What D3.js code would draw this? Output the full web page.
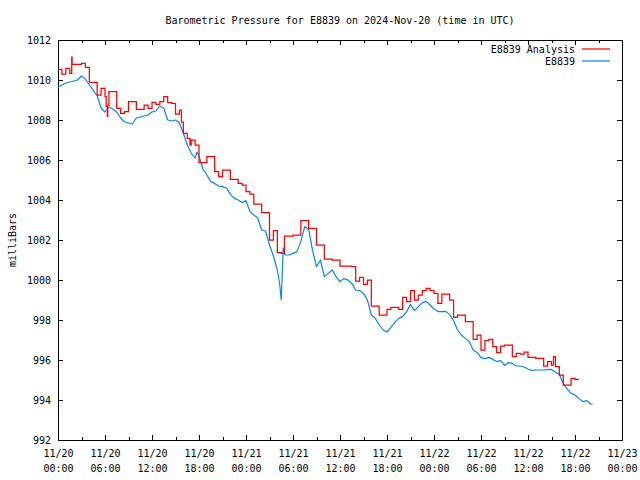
<!DOCTYPE html>
<html><head><meta charset="utf-8">
<script src="https://cdn.jsdelivr.net/npm/d3@7"></script>
<style>
body{margin:0;background:#fff}
svg text{font-family:"DejaVu Sans Mono","Liberation Mono",monospace;font-size:10px;fill:#000}
</style>
</head><body>
<svg id="chart" width="640" height="480"></svg>
<script>
const titleText = "Barometric Pressure for E8839 on 2024-Nov-20 (time in UTC)";
const yAxisLabel = "milliBars";
const seriesNames = ["E8839 Analysis", "E8839"];
const seriesColors = ["#ff0000", "#0a84f5"];
const startUTC = Date.UTC(2024, 10, 20, 0, 0);
const endUTC = Date.UTC(2024, 10, 23, 0, 0);
const yTickValues = [992, 994, 996, 998, 1000, 1002, 1004, 1006, 1008, 1010, 1012];

// Analysis (hours after 11/20 00:00 UTC, millibars)
const analysisHours = [0,0.5,1,1.5,1.75,1.8,2,2.5,3,3.5,4,4.5,5,5.5,6,6.15,6.3,6.35,6.5,7,7.5,8,8.5,9,9.5,10,10.5,11,11.5,12,12.5,13,13.5,14,14.5,15,15.5,15.75,16,16.5,16.85,17,17.5,18,18.5,19,19.5,20,20.5,21,21.5,22,22.5,23,23.5,24,24.5,25,25.5,26,26.5,27,27.5,28,28.5,28.9,29,29.5,30,30.5,31,31.5,32,32.5,33,33.5,34,34.5,35,35.5,36,36.5,37,37.5,38,38.5,39,39.5,40,40.5,41,41.5,42,42.5,43,43.5,44,44.5,45,45.5,46,46.5,47,47.5,48,48.5,49,49.5,50,50.5,51,51.5,52,52.5,53,53.5,54,54.5,55,55.5,56,56.5,57,57.5,58,58.5,59,59.5,60,60.5,61,61.5,62,62.5,63,63.25,63.5,64,64.5,65,65.5,66,66.5];
const analysisValues = [1010.53,1010.3,1010.58,1010.33,1011.15,1010.78,1010.78,1010.78,1010.83,1010.63,1009.88,1009.88,1009.25,1009.58,1009.17,1008.67,1008.17,1008.75,1009.42,1009.42,1008.58,1008.33,1008.42,1008.92,1008.92,1008.53,1008.53,1008.75,1008.58,1008.88,1008.78,1008.92,1009.17,1008.87,1008.83,1008.3,1008.5,1007.9,1007.33,1007.08,1006.75,1007.0,1006.75,1005.87,1005.87,1006.17,1006.17,1005.42,1005.17,1005.5,1005.5,1005.03,1005.03,1004.83,1004.75,1004.42,1004.3,1003.8,1003.8,1003.37,1003.37,1002.0,1002.47,1001.37,1001.33,1002.2,1002.2,1002.2,1002.25,1002.25,1002.97,1002.97,1002.58,1002.58,1001.75,1001.75,1001.05,1001.05,1001.0,1001.0,1000.7,1000.7,1000.7,1000.67,999.95,1000.13,999.78,1000.0,998.7,998.7,998.25,998.25,998.53,998.63,998.63,998.53,999.13,998.92,999.47,999.0,999.25,999.47,999.58,999.47,999.33,998.83,999.3,999.3,999.0,998.13,998.25,998.25,997.92,997.92,997.03,997.25,996.5,996.97,997.03,996.67,996.37,996.7,996.75,996.75,996.17,996.33,996.3,996.4,996.13,996.13,996.08,996.08,995.7,995.92,995.75,996.17,995.67,995.25,994.75,994.75,995.08,995.03,995.03];

// Station observations
const stationHours = [0,0.5,1,1.5,2,2.5,3,3.5,4,4.5,5,5.5,6,6.5,7,7.5,8,8.5,9,9.5,10,10.5,11,11.5,12,12.5,13,13.5,14,14.5,15,15.5,16,16.5,17,17.5,17.75,18,18.5,19,19.5,20,20.5,21,21.5,22,22.5,23,23.5,24,24.5,25,25.5,26,26.5,27,27.5,28,28.3,28.5,28.75,29,29.5,30,30.5,31,31.5,32,32.5,33,33.5,34,34.5,35,35.5,36,36.5,37,37.5,38,38.5,39,39.5,40,40.5,41,41.5,42,42.5,43,43.5,44,44.5,45,45.5,46,46.5,47,47.5,48,48.5,49,49.5,50,50.5,51,51.5,52,52.5,53,53.5,54,54.5,55,55.5,56,56.5,57,57.5,58,58.5,59,59.5,60,60.5,61,61.5,62,62.5,63,63.5,64,64.5,65,65.5,66,66.5,67,67.5,68,68.25];
const stationValues = [1009.65,1009.75,1009.85,1009.9,1009.95,1010.0,1010.2,1010.05,1009.75,1009.5,1009.2,1008.6,1008.4,1008.65,1008.55,1008.4,1008.1,1007.9,1007.85,1007.8,1008.1,1008.15,1008.2,1008.25,1008.4,1008.45,1008.7,1008.6,1008.0,1007.95,1008.0,1007.85,1007.35,1006.75,1006.35,1006.1,1006.4,1006.2,1005.55,1005.25,1004.92,1004.83,1004.7,1004.67,1004.6,1004.28,1004.08,1004.0,1003.87,1003.97,1003.42,1003.25,1003.1,1002.5,1002.45,1001.75,1001.2,1000.5,999.8,999.0,1001.6,1001.25,1001.25,1001.33,1001.42,1001.92,1002.67,1002.53,1001.47,1000.67,1001.0,1000.17,1000.33,1000.5,1000.17,999.92,1000.07,1000.0,999.83,999.5,999.47,999.33,999.0,998.25,998.08,997.75,997.5,997.4,997.63,997.88,998.08,998.17,998.42,998.77,998.47,998.67,998.87,998.93,998.75,998.55,998.42,998.42,998.43,998.27,997.97,997.5,997.25,997.08,996.92,996.5,996.38,996.12,996.07,996.13,996.03,995.92,995.97,995.73,995.87,995.83,995.7,995.7,995.65,995.55,995.48,995.5,995.5,995.5,995.52,995.53,995.4,995.27,994.83,994.55,994.33,994.25,994.08,993.92,993.97,993.8,993.8];

const L = 58, R = 622, T = 40, B = 440;
const svg = d3.select("#chart");

const x = d3.scaleUtc().domain([new Date(startUTC), new Date(endUTC)]).range([L, R]);
const y = d3.scaleLinear().domain([992, 1012]).range([B, T]);
const hourToDate = h => new Date(startUTC + h * 3600000);

const majorTimes = d3.utcHour.every(6).range(new Date(startUTC), new Date(endUTC + 1));
const minorTimes = d3.utcHour.every(3).range(new Date(startUTC), new Date(endUTC + 1)).filter(d => d.getUTCHours() % 6 !== 0);

const fmtDay = d3.utcFormat("%m/%d"), fmtTime = d3.utcFormat("%H:%M");

// bottom axis (major, inward)
const gx = svg.append("g").attr("transform", `translate(0,${B})`)
  .call(d3.axisBottom(x).tickValues(majorTimes).tickSize(-5).tickFormat(() => ""));
gx.selectAll(".tick").append("text").attr("class","lbl")
  .attr("text-anchor","middle").attr("fill","#000")
  .each(function(d){
    const t = d3.select(this);
    t.append("tspan").attr("x",0).attr("y",17).text(fmtDay(d));
    t.append("tspan").attr("x",0).attr("y",32).text(fmtTime(d));
  });
svg.append("g").attr("transform", `translate(0,${B})`)
  .call(d3.axisBottom(x).tickValues(minorTimes).tickSize(-3).tickFormat(() => ""));
// top axis
svg.append("g").attr("transform", `translate(0,${T})`)
  .call(d3.axisTop(x).tickValues(majorTimes).tickSize(-5).tickFormat(() => ""));
svg.append("g").attr("transform", `translate(0,${T})`)
  .call(d3.axisTop(x).tickValues(minorTimes).tickSize(-3).tickFormat(() => ""));
// left axis
svg.append("g").attr("transform", `translate(${L},0)`)
  .call(d3.axisLeft(y).tickValues(yTickValues).tickSize(-5).tickPadding(7).tickFormat(d3.format("d")));
// right axis
svg.append("g").attr("transform", `translate(${R},0)`)
  .call(d3.axisRight(y).tickValues(yTickValues).tickSize(-5).tickFormat(() => ""));

svg.selectAll(".domain").remove();
svg.selectAll(".tick line").attr("stroke","#000").attr("shape-rendering","crispEdges");
svg.selectAll(".tick text").style("font-family",'"DejaVu Sans Mono","Liberation Mono",monospace').style("font-size","10px");

// frame
svg.append("rect").attr("x", L + 0.5).attr("y", T + 0.5).attr("width", R - L).attr("height", B - T)
  .attr("fill","none").attr("stroke","#000").attr("shape-rendering","crispEdges");

// series
const analysisData = analysisHours.map((h, i) => ({t: hourToDate(h), v: analysisValues[i]}));
const stationData = stationHours.map((h, i) => ({t: hourToDate(h), v: stationValues[i]}));

svg.append("path").datum(stationData)
  .attr("fill","none").attr("stroke", seriesColors[1]).attr("stroke-width", 1.2)
  .attr("stroke-linejoin","round")
  .attr("d", d3.line().x(d => x(d.t)).y(d => y(d.v)));
svg.append("path").datum(analysisData)
  .attr("fill","none").attr("stroke", seriesColors[0]).attr("stroke-width", 1.25)
  .attr("d", d3.line().curve(d3.curveStepAfter).x(d => x(d.t)).y(d => y(d.v)));

// title
svg.append("text").attr("x", (L + R) / 2).attr("y", 24).attr("text-anchor","middle").text(titleText);
// y label
svg.append("text").attr("transform","translate(16,240) rotate(-90)").attr("text-anchor","middle").text(yAxisLabel);

// legend
const legend = svg.append("g");
seriesNames.forEach((name, i) => {
  const ly = 49 + i * 12;
  legend.append("text").attr("x", 575).attr("y", ly + 4).attr("text-anchor","end").text(name);
  legend.append("line").attr("x1", 582).attr("x2", 610).attr("y1", ly).attr("y2", ly)
    .attr("stroke", seriesColors[i]).attr("stroke-width", 1.25);
});
</script>
</body></html>
